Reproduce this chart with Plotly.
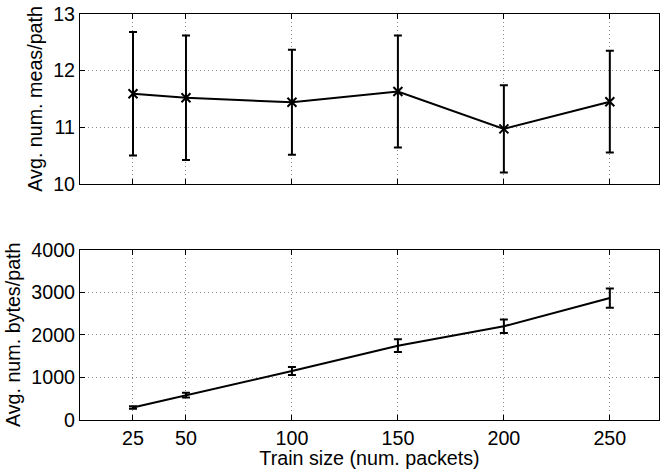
import plotly.graph_objects as go
from plotly.subplots import make_subplots

train_size = [25, 50, 100, 150, 200, 250]
meas_mean = [11.59, 11.52, 11.44, 11.63, 10.97, 11.45]
meas_err = [1.09, 1.10, 0.93, 0.99, 0.77, 0.90]
bytes_mean = [295, 582, 1148, 1744, 2200, 2862]
bytes_err = [30, 55, 94, 150, 157, 227]

x_ticks = [25, 50, 100, 150, 200, 250]
y1_ticks = [10, 11, 12, 13]
y2_ticks = [0, 1000, 2000, 3000, 4000]

FONT = "Liberation Sans, Arial, Helvetica, sans-serif"
FS = 19.7

fig = make_subplots(rows=2, cols=1, vertical_spacing=0.0)

fig.add_trace(go.Scatter(
    x=train_size, y=meas_mean, mode="lines+markers",
    line=dict(color="black", width=2),
    marker=dict(symbol="x-thin", size=9, color="black", line=dict(width=2, color="black")),
    error_y=dict(type="data", array=meas_err, visible=True, color="black", thickness=2, width=4),
    showlegend=False), row=1, col=1)

fig.add_trace(go.Scatter(
    x=train_size, y=bytes_mean, mode="lines",
    line=dict(color="black", width=2),
    error_y=dict(type="data", array=bytes_err, visible=True, color="black", thickness=2, width=4),
    showlegend=False), row=2, col=1)

axis_common = dict(
    showline=True, linecolor="black", linewidth=1, mirror="ticks",
    ticks="inside", ticklen=5, tickcolor="black",
    showgrid=True, gridcolor="#8a8a8a", griddash="1px,3px", gridwidth=1,
    zeroline=False, automargin=False,
    tickfont=dict(family=FONT, size=FS, color="black"),
)

fig.update_xaxes(range=[0, 273.2], tickvals=x_ticks, **axis_common)
fig.update_xaxes(showticklabels=False, domain=[0, 1], row=1, col=1)
fig.update_xaxes(title=dict(text="Train size (num. packets)", font=dict(family=FONT, size=FS, color="black"), standoff=0),
                 row=2, col=1)

fig.update_yaxes(**axis_common)
fig.update_yaxes(range=[10, 13], tickvals=y1_ticks, domain=[0.582, 1.0],
                 title=dict(text="Avg. num. meas/path", font=dict(family=FONT, size=FS, color="black"), standoff=5),
                 row=1, col=1)
fig.update_yaxes(range=[0, 4000], tickvals=y2_ticks, domain=[0.0, 0.4197],
                 title=dict(text="Avg. num. bytes/path", font=dict(family=FONT, size=FS, color="black"), standoff=5),
                 row=2, col=1)

fig.update_layout(
    width=660, height=469,
    margin=dict(l=80, r=1, t=14, b=49),
    paper_bgcolor="white", plot_bgcolor="white",
    font=dict(family=FONT, size=FS, color="black"),
)

fig.write_html("out.html",
               config={"displayModeBar": False},
               post_script="document.body.style.margin='0';document.body.style.overflow='hidden';")
